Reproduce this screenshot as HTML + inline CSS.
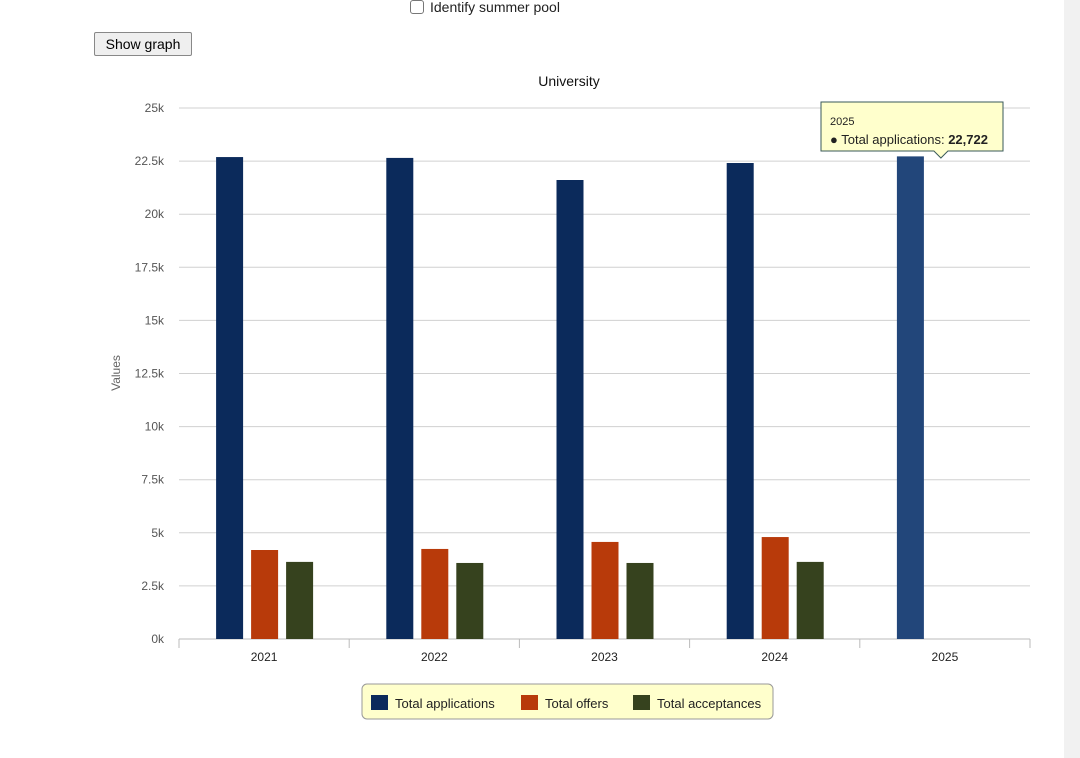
<!DOCTYPE html>
<html><head><meta charset="utf-8"><style>
body{margin:0;width:1080px;height:758px;background:#fff;overflow:hidden;position:relative;font-family:"Liberation Sans",Arial,sans-serif}
#cb{position:absolute;left:410px;top:-1px;font-size:14px;color:#222;display:flex;align-items:center;gap:6px}
#cb span.box{width:12px;height:12px;border:1px solid #777;border-radius:3px;display:inline-block;background:#fff}
#btn{position:absolute;left:94px;top:32px;width:98px;height:24px;border:1px solid #888;border-radius:2px;background:#efefef;font-size:14px;font-family:"Liberation Sans",sans-serif;padding:0}
#scroll{position:absolute;left:1064px;top:0;width:16px;height:758px;background:#f1f1f1}
</style></head><body>
<div id="cb"><span class="box"></span>Identify summer pool</div>
<button id="btn">Show graph</button>
<div id="scroll"></div>
<svg id="chart" width="1080" height="758" style="position:absolute;left:0;top:0"></svg>
<script>
const categories=["2021","2022","2023","2024","2025"];
const applications=[22690,22650,21610,22410,22722];
const offers=[4190,4240,4570,4800,null];
const acceptances=[3630,3580,3580,3630,null];
const yTicks=[0,2500,5000,7500,10000,12500,15000,17500,20000,22500,25000];
const yTickLabels=["0k","2.5k","5k","7.5k","10k","12.5k","15k","17.5k","20k","22.5k","25k"];
const seriesNames=["Total applications","Total offers","Total acceptances"];
const colors=["#0b2a5b","#b83a0a","#36421e"];
const NS="http://www.w3.org/2000/svg";
const svg=document.getElementById('chart');
const L=179,R=1030,T=108,B=639,YMAX=25000;
const y=v=>B-(v/YMAX)*(B-T);
const cw=(R-L)/categories.length;
function el(t,a,txt){const e=document.createElementNS(NS,t);for(const k in a)e.setAttribute(k,a[k]);if(txt!=null)e.textContent=txt;svg.appendChild(e);return e;}
let t=el('text',{x:569,y:86,'text-anchor':'middle','font-size':14,fill:'#111'},'University');

yTicks.forEach((v,i)=>{
  const g=el('line',{x1:L,x2:R,y1:y(v),y2:y(v),stroke:i==0?'#bbb':'#d0d0d0','stroke-width':1});
  
  const l=el('text',{x:164,y:y(v)+4,'text-anchor':'end','font-size':12,fill:'#555'},yTickLabels[i]);
  
});
t=el('text',{x:120,y:373,'text-anchor':'middle','font-size':12,fill:'#666',transform:'rotate(-90 120 373)'},'Values');

for(let i=0;i<=categories.length;i++){const k=el('line',{x1:L+i*cw,x2:L+i*cw,y1:B,y2:B+9,stroke:'#bbb'});}
categories.forEach((c,i)=>{
  const cx=L+cw*(i+0.5);
  const l=el('text',{x:cx,y:661,'text-anchor':'middle','font-size':12,fill:'#222'},c);
  
  [applications,offers,acceptances].forEach((s,j)=>{
    if(s[i]==null)return;
    const bx=cx-48+j*35;
    const fill=(i==4&&j==0)?'#22467a':colors[j];
    const r=el('rect',{x:bx,y:y(s[i]),width:27,height:B-y(s[i]),fill});
    
    
  });
});
// tooltip
const tx=L+cw*4.5-4;
const tp=el('path',{d:`M821 102 H1003 V151 H${tx+7} L${tx} 158 L${tx-7} 151 H821 Z`,fill:'#ffffcc',stroke:'#3a5a5a','stroke-width':1});

t=el('text',{x:830,y:125,'font-size':11,fill:'#222'},categories[4]);
t=el('text',{x:830,y:144,'font-size':13,fill:'#222'},'● Total applications: ');
const b=document.createElementNS(NS,'tspan');b.setAttribute('font-weight','bold');b.textContent=applications[4].toLocaleString('en-US');t.appendChild(b);
// legend
const lg=el('rect',{x:362,y:684,width:411,height:35,rx:5,fill:'#ffffcc',stroke:'#999'});

const lx=[371,521,633];
seriesNames.forEach((n,j)=>{
  const s=el('rect',{x:lx[j],y:695,width:17,height:15,fill:colors[j]});
  const tt=el('text',{x:lx[j]+24,y:708,'font-size':13,fill:'#222'},n);
});
</script>
</body></html>
